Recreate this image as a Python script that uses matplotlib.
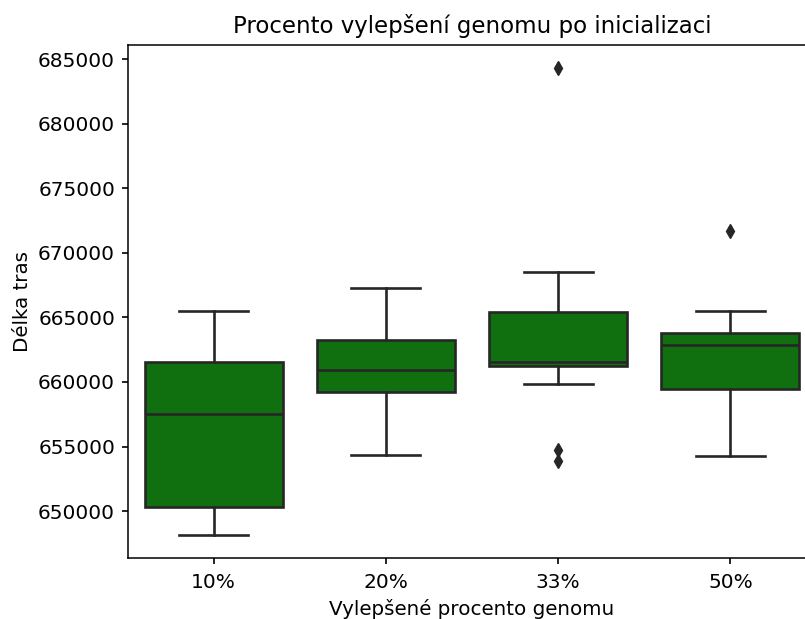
import matplotlib
matplotlib.use("Agg")
import matplotlib.pyplot as plt

# box statistics
labels = ["10%", "20%", "33%", "50%"]
whis_lo = [648170, 654360, 659840, 654260]
q1 = [650310, 659190, 661200, 659470]
med = [657540, 660940, 661570, 662830]
q3 = [661510, 663270, 665440, 663810]
whis_hi = [665490, 667290, 668530, 665490]
fliers = [[], [], [684300, 654750, 653900], [671660]]

box_color = "#107010"
line_color = "#262626"

stats = []
for i in range(len(labels)):
    stats.append({
        "label": labels[i],
        "whislo": whis_lo[i],
        "q1": q1[i],
        "med": med[i],
        "q3": q3[i],
        "whishi": whis_hi[i],
        "fliers": fliers[i],
    })

fig = plt.figure(figsize=(8.05, 6.19), dpi=100)
ax = fig.add_axes([127.5 / 805, 61 / 619, 689 / 805, 513 / 619])

lw = 1.9
ax.bxp(stats, positions=range(len(labels)), widths=0.8, capwidths=0.4,
       patch_artist=True, showfliers=True,
       boxprops=dict(facecolor=box_color, edgecolor=line_color, linewidth=lw),
       medianprops=dict(color=line_color, linewidth=lw),
       whiskerprops=dict(color=line_color, linewidth=lw),
       capprops=dict(color=line_color, linewidth=lw),
       flierprops=dict(marker="d", markerfacecolor=line_color,
                       markeredgecolor=line_color, markersize=7))

ax.set_xlim(-0.5, 3.5)
ax.set_xticks(range(len(labels)))
ax.set_xticklabels(labels)
ax.tick_params(labelsize=14.5, width=1.2, length=4.5)
ax.tick_params(axis="x", pad=6)
ax.tick_params(axis="y", pad=4.5)
for s in ax.spines.values():
    s.set_linewidth(1.1)

ax.set_title("Procento vylepšení genomu po inicializaci", fontsize=16.5, pad=9)
ax.set_xlabel("Vylepšené procento genomu", fontsize=14.3, labelpad=5.5)
ax.set_ylabel("Délka tras", fontsize=14.3)

fig.savefig("out.png", dpi=100)
